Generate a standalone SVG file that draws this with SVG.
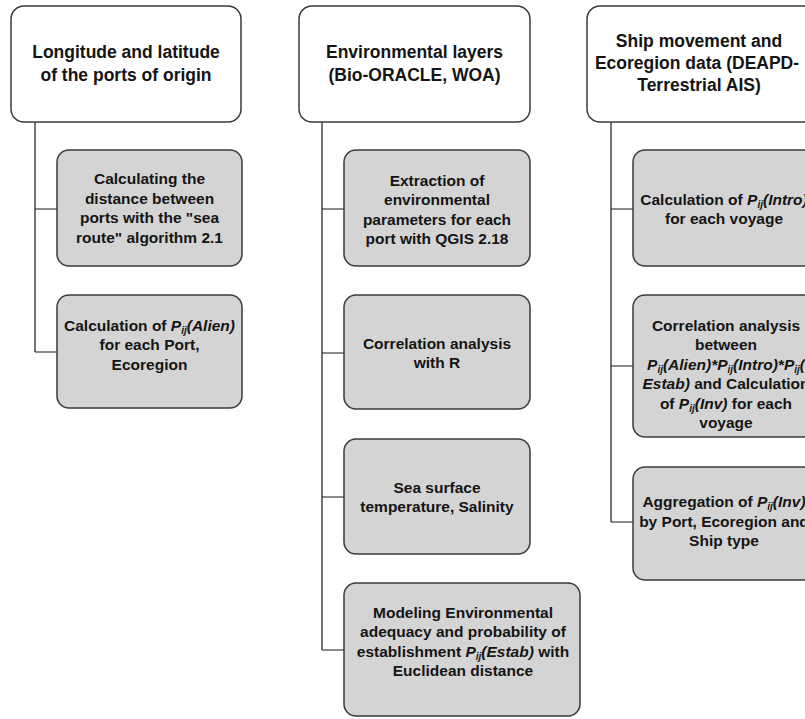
<svg xmlns="http://www.w3.org/2000/svg" width="805" height="719" viewBox="0 0 805 719">
<style>
.hdr{fill:#ffffff;stroke:#3a3a3a;stroke-width:1.5}
.box{fill:#d4d4d4;stroke:#3a3a3a;stroke-width:1.5}
.conn{fill:none;stroke:#1a1a1a;stroke-width:1.2}
text{font-family:"Liberation Sans",Arial,sans-serif;font-weight:bold;fill:#141414;text-anchor:middle}
.h{font-size:17.5px}
.t{font-size:15.5px}
.i{font-style:italic}
.s{font-size:10px;font-style:italic}
</style>
<rect width="805" height="719" fill="#ffffff"/>
<g id="connectors">
<path class="conn" d="M35,122 V352 M35,209 H57 M35,352 H57"/>
<path class="conn" d="M322,122 V650 M322,209 H344 M322,353 H344 M322,497 H344 M322,650 H344"/>
<path class="conn" d="M611,122 V522 M611,209 H633 M611,366 H633 M611,522 H633"/>
</g>
<g id="h1">
<rect class="hdr" x="11" y="6" width="230" height="116" rx="13"/>
<text class="h" x="126" y="58">Longitude and latitude</text>
<text class="h" x="126" y="81">of the ports of origin</text>
</g>
<g id="h2">
<rect class="hdr" x="299" y="6" width="231" height="116" rx="13"/>
<text class="h" x="414.5" y="58">Environmental layers</text>
<text class="h" x="414.5" y="81">(Bio-ORACLE, WOA)</text>
</g>
<g id="h3">
<rect class="hdr" x="587" y="6" width="231" height="116" rx="13"/>
<text class="h" x="699" y="47">Ship movement and</text>
<text class="h" x="697" y="69">Ecoregion data (DEAPD-</text>
<text class="h" x="699" y="91">Terrestrial AIS)</text>
</g>
<g id="c1a">
<rect class="box" x="57" y="150" width="185" height="116" rx="12"/>
<text class="t" x="149.5" y="184">Calculating the</text>
<text class="t" x="149.5" y="203.5">distance between</text>
<text class="t" x="149.5" y="223">ports with the "sea</text>
<text class="t" x="149.5" y="242.5">route" algorithm 2.1</text>
</g>
<g id="c1b">
<rect class="box" x="57" y="295" width="185" height="113" rx="12"/>
<text class="t" x="149.5" y="330.5">Calculation of <tspan class="i">P</tspan><tspan class="s" dy="3">ij</tspan><tspan class="i" dy="-3">(Alien)</tspan></text>
<text class="t" x="149.5" y="350">for each Port,</text>
<text class="t" x="149.5" y="369.5">Ecoregion</text>
</g>
<g id="c2a">
<rect class="box" x="344" y="150" width="186" height="116" rx="12"/>
<text class="t" x="437" y="185.5">Extraction of</text>
<text class="t" x="437" y="205">environmental</text>
<text class="t" x="437" y="224.5">parameters for each</text>
<text class="t" x="437" y="244">port with QGIS 2.18</text>
</g>
<g id="c2b">
<rect class="box" x="344" y="295" width="186" height="114" rx="12"/>
<text class="t" x="437" y="348.5">Correlation analysis</text>
<text class="t" x="437" y="368">with R</text>
</g>
<g id="c2c">
<rect class="box" x="344" y="439" width="186" height="115" rx="12"/>
<text class="t" x="437" y="492.5">Sea surface</text>
<text class="t" x="437" y="512">temperature, Salinity</text>
</g>
<g id="c2d">
<rect class="box" x="344" y="583" width="236" height="133" rx="12"/>
<text class="t" x="463" y="617.5">Modeling Environmental</text>
<text class="t" x="463" y="637">adequacy and probability of</text>
<text class="t" x="463" y="656.5">establishment <tspan class="i">P</tspan><tspan class="s" dy="3">ij</tspan><tspan class="i" dy="-3">(Estab)</tspan> with</text>
<text class="t" x="463" y="676">Euclidean distance</text>
</g>
<g id="c3a">
<rect class="box" x="633" y="150" width="186" height="116" rx="12"/>
<text class="t" x="724" y="204.5">Calculation of <tspan class="i">P</tspan><tspan class="s" dy="3">ij</tspan><tspan class="i" dy="-3">(Intro)</tspan></text>
<text class="t" x="724" y="224">for each voyage</text>
</g>
<g id="c3b">
<rect class="box" x="633" y="295" width="186" height="142" rx="12"/>
<text class="t" x="726" y="330.5">Correlation analysis</text>
<text class="t" x="726" y="350">between</text>
<text class="t" x="726" y="369.5"><tspan class="i">P</tspan><tspan class="s" dy="3">ij</tspan><tspan class="i" dy="-3">(Alien)*</tspan><tspan class="i">P</tspan><tspan class="s" dy="3">ij</tspan><tspan class="i" dy="-3">(Intro)*</tspan><tspan class="i">P</tspan><tspan class="s" dy="3">ij</tspan><tspan class="i" dy="-3">(</tspan></text>
<text class="t" x="726" y="389"><tspan class="i">Estab)</tspan> and Calculation</text>
<text class="t" x="726" y="408.5">of <tspan class="i">P</tspan><tspan class="s" dy="3">ij</tspan><tspan class="i" dy="-3">(Inv)</tspan> for each</text>
<text class="t" x="726" y="428">voyage</text>
</g>
<g id="c3c">
<rect class="box" x="633" y="467" width="186" height="113" rx="12"/>
<text class="t" x="724" y="507">Aggregation of <tspan class="i">P</tspan><tspan class="s" dy="3">ij</tspan><tspan class="i" dy="-3">(Inv)</tspan></text>
<text class="t" x="724" y="526.5">by Port, Ecoregion and</text>
<text class="t" x="724" y="546">Ship type</text>
</g>
</svg>
